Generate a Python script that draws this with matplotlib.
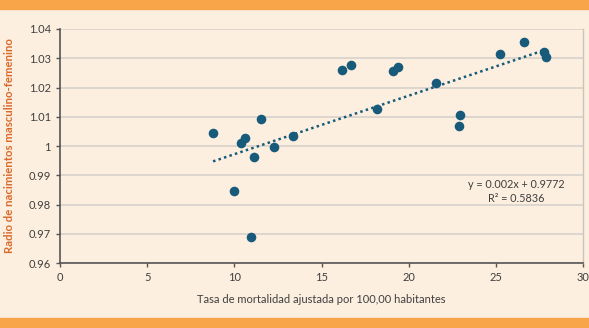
import matplotlib
matplotlib.use("Agg")
import matplotlib.pyplot as plt
import numpy as np

# Data
mortality = [8.78, 10.38, 10.63, 11.51, 11.11, 12.30, 13.35, 10.0, 10.96,
             16.15, 16.67, 19.12, 19.41, 18.16, 21.59, 22.95, 22.89,
             25.25, 26.63, 27.78, 27.87]
ratio = [1.0046, 1.0009, 1.0027, 1.0093, 0.9963, 0.9997, 1.0034, 0.9846, 0.9690,
         1.0261, 1.0276, 1.0255, 1.0269, 1.0127, 1.0217, 1.0106, 1.0068,
         1.0313, 1.0356, 1.0322, 1.0305]
slope = 0.002
intercept = 0.9772
r2 = 0.5836
x_ticks = [0, 5, 10, 15, 20, 25, 30]
y_ticks = [0.96, 0.97, 0.98, 0.99, 1.0, 1.01, 1.02, 1.03, 1.04]
y_tick_labels = ["0.96", "0.97", "0.98", "0.99", "1", "1.01", "1.02", "1.03", "1.04"]

plt.rcParams['font.family'] = ['Lato', 'DejaVu Sans']

bg = "#FDEFDF"
orange = "#F8A449"
teal = "#175A7A"
txt = "#3f3f3f"

fig = plt.figure(figsize=(5.89, 3.28), dpi=100)
fig.patch.set_facecolor(bg)

# orange bands
fig.add_artist(plt.Rectangle((0, 0.9726), 1, 0.03, transform=fig.transFigure,
                             color=orange, zorder=0))
fig.add_artist(plt.Rectangle((0, 0), 1, 0.0305, transform=fig.transFigure,
                             color=orange, zorder=0))

ax = fig.add_axes([0.1019, 0.198, 0.8879, 0.7136])
ax.set_facecolor(bg)
ax.set_xlim(0, 30)
ax.set_ylim(0.96, 1.04)
ax.set_xticks(x_ticks)
ax.set_yticks(y_ticks)
ax.set_yticklabels(y_tick_labels)

ax.grid(axis='y', color='#d3cfca', linewidth=1.1)
ax.set_axisbelow(True)

for s in ['left', 'bottom']:
    ax.spines[s].set_color('#555555')
    ax.spines[s].set_linewidth(1.2)
ax.spines['top'].set_visible(False)
ax.spines['right'].set_color('#c8c4bf')
ax.spines['right'].set_linewidth(1.0)

ax.tick_params(axis='both', colors='#555555', labelcolor=txt, labelsize=8,
               length=3, width=1)

ax.scatter(mortality, ratio, s=48, color=teal, zorder=3, linewidths=0)

xl = np.array([min(mortality), max(mortality)])
ax.plot(xl, slope * xl + intercept, color=teal, linewidth=1.8,
        linestyle=(0, (1, 1.3)), zorder=2)

ax.text(26.2, 0.9869, f"y = {slope}x + {intercept}", ha='center', va='center',
        fontsize=7.8, color=txt)
ax.text(26.2, 0.9820, f"R² = {r2}", ha='center', va='center',
        fontsize=7.8, color=txt)

ax.set_xlabel("Tasa de mortalidad ajustada por 100,00 habitantes", fontsize=8,
              color=txt, labelpad=8)
ax.set_ylabel("Radio de nacimientos masculino-femenino", fontsize=8.2,
              color="#D9692A", fontweight='bold', labelpad=10)

fig.savefig("out.png", dpi=100, facecolor=bg)
